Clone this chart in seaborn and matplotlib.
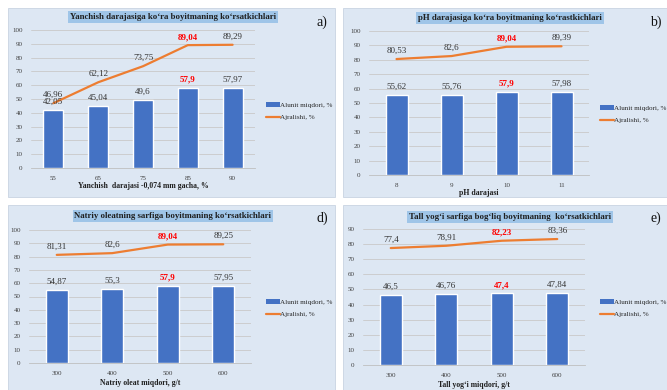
import numpy as np
import pandas as pd
import seaborn as sns
import matplotlib.pyplot as plt
from matplotlib.patches import Rectangle, Patch
from matplotlib.lines import Line2D

# data
a_cats = ["55", "65", "75", "85", "90"]
a_alunit = [42.05, 45.04, 49.6, 57.9, 57.97]
a_ajr = [46.96, 62.12, 73.75, 89.04, 89.29]

b_cats = ["8", "9", "10", "11"]
b_alunit = [55.62, 55.76, 57.9, 57.98]
b_ajr = [80.53, 82.6, 89.04, 89.39]

d_cats = ["300", "400", "500", "600"]
d_alunit = [54.87, 55.3, 57.9, 57.95]
d_ajr = [81.31, 82.6, 89.04, 89.25]

e_cats = ["300", "400", "500", "600"]
e_alunit = [46.5, 46.76, 47.4, 47.84]
e_ajr = [77.4, 78.91, 82.23, 83.36]

titles = ["Yanchish darajasiga ko\u2018ra boyitmaning ko\u2018rsatkichlari",
          "pH darajasiga ko\u2018ra boyitmaning ko\u2018rastkichlari",
          "Natriy oleatning sarfiga boyitmaning ko\u2018rsatkichlari",
          "Tall yog\u2018i sarfiga bog\u2018liq boyitmaning  ko\u2018rsatkichlari"]
xlabels = ["Yanchish  darajasi -0,074 mm gacha, %", "pH darajasi",
           "Natriy oleat miqdori, g/t", "Tall yog\u2018i miqdori, g/t"]
tags = ["a)", "b)", "d)", "e)"]
best = [3, 2, 2, 2]

BAR = "#4472C4"
LINE = "#ED7D31"
BG = "#dde7f3"
TBOX = "#9fc5e8"

sns.set_theme(style="white")
plt.rcParams["font.family"] = ["Liberation Serif", "DejaVu Serif"]

W, H = 667, 390
fig = plt.figure(figsize=(W / 100, H / 100), dpi=100)


def fx(x):
    return x / W


def fy(y):
    return 1 - y / H


def rect(x0, y0, x1, y1):
    return [x0 / W, 1 - y1 / H, (x1 - x0) / W, (y1 - y0) / H]


panels = [
    dict(cats=a_cats, al=a_alunit, aj=a_ajr, bg=(8, 8, 335, 197), plot=(31, 30, 255, 168),
         ymax=100, tx=173, ty=17, tag=(322, 22), xl=186, leg=(262, 111), bw=0.45),
    dict(cats=b_cats, al=b_alunit, aj=b_ajr, bg=(343, 8, 667, 197), plot=(369, 31, 589, 175),
         ymax=100, tx=510, ty=18, tag=(656, 22), xl=193, leg=(596, 114), bw=0.4),
    dict(cats=d_cats, al=d_alunit, aj=d_ajr, bg=(8, 205, 335, 390), plot=(29, 230, 251, 363),
         ymax=100, tx=173, ty=216, tag=(322, 218), xl=383, leg=(262, 308), bw=0.4),
    dict(cats=e_cats, al=e_alunit, aj=e_ajr, bg=(343, 205, 667, 390), plot=(363, 229, 585, 365),
         ymax=90, tx=510, ty=217, tag=(656, 218), xl=385, leg=(596, 308), bw=0.4),
]

for i, p in enumerate(panels):
    x0, y0, x1, y1 = p["bg"]
    fig.patches.append(Rectangle((fx(x0), fy(y1)), (x1 - x0) / W, (y1 - y0) / H,
                                 transform=fig.transFigure, facecolor=BG,
                                 edgecolor="#c8d4e2", lw=0.6, zorder=-5))

    ax = fig.add_axes(rect(*p["plot"]))
    ax.set_zorder(2)
    ax.set_facecolor("none")
    df = pd.DataFrame({"x": p["cats"], "alunit": p["al"], "ajr": p["aj"]})
    sns.barplot(data=df, x="x", y="alunit", color=BAR, width=p["bw"], saturation=1,
                ax=ax, zorder=2)
    sns.lineplot(x=np.arange(len(p["cats"])), y=p["aj"], color=LINE, lw=1.6, ax=ax, zorder=3)

    ax.set_ylim(0, p["ymax"])
    ax.set_yticks(np.arange(0, p["ymax"] + 1, 10))
    ax.set_xlim(-0.5, len(p["cats"]) - 0.5)
    ax.grid(axis="y", color="#c9c9c9", lw=0.6, zorder=0)
    ax.set_axisbelow(True)
    for s in ["top", "right", "left"]:
        ax.spines[s].set_visible(False)
    ax.spines["bottom"].set_color("#bfbfbf")
    ax.spines["bottom"].set_linewidth(0.6)
    ax.tick_params(axis="both", length=0, labelsize=5, colors="#404040", pad=6)
    ax.set_ylabel("")
    ax.set_xlabel("")

    for j, (v1, v2) in enumerate(zip(p["al"], p["aj"])):
        red = j == best[i]
        kw = dict(color="red", fontweight="bold") if red else dict(color="#333333")
        ax.annotate(str(v1).replace(".", ","), (j, v1), xytext=(0, 3),
                    textcoords="offset points", ha="center", va="bottom", fontsize=6.5, **kw)
        ax.annotate(str(v2).replace(".", ","), (j, v2), xytext=(0, 3),
                    textcoords="offset points", ha="center", va="bottom", fontsize=6.5, **kw)

    fig.text(fx(p["tx"]), fy(p["ty"]), titles[i], ha="center", va="center",
             fontsize=6.3, fontweight="bold", color="#1f1f1f",
             bbox=dict(facecolor=TBOX, edgecolor="none", pad=1.2))
    fig.text(fx(p["tag"][0]), fy(p["tag"][1]), tags[i], ha="center", va="center",
             fontsize=10, color="#111111")
    fig.text(fx((p["plot"][0] + p["plot"][2]) / 2), fy(p["xl"]), xlabels[i],
             ha="center", va="center", fontsize=5.6, fontweight="bold", color="#1f1f1f")

    handles = [Patch(facecolor=BAR, edgecolor="none"), Line2D([], [], color=LINE, lw=1.6)]
    fig.legend(handles, ["Alunit miqdori, %", "Ajralishi, %"],
               loc="center left", bbox_to_anchor=(fx(p["leg"][0]), fy(p["leg"][1])),
               frameon=False, fontsize=5.1, handlelength=2.0, handleheight=0.6,
               handletextpad=0.1, labelspacing=0.9, borderpad=0)

fig.savefig("out.png", dpi=100)
